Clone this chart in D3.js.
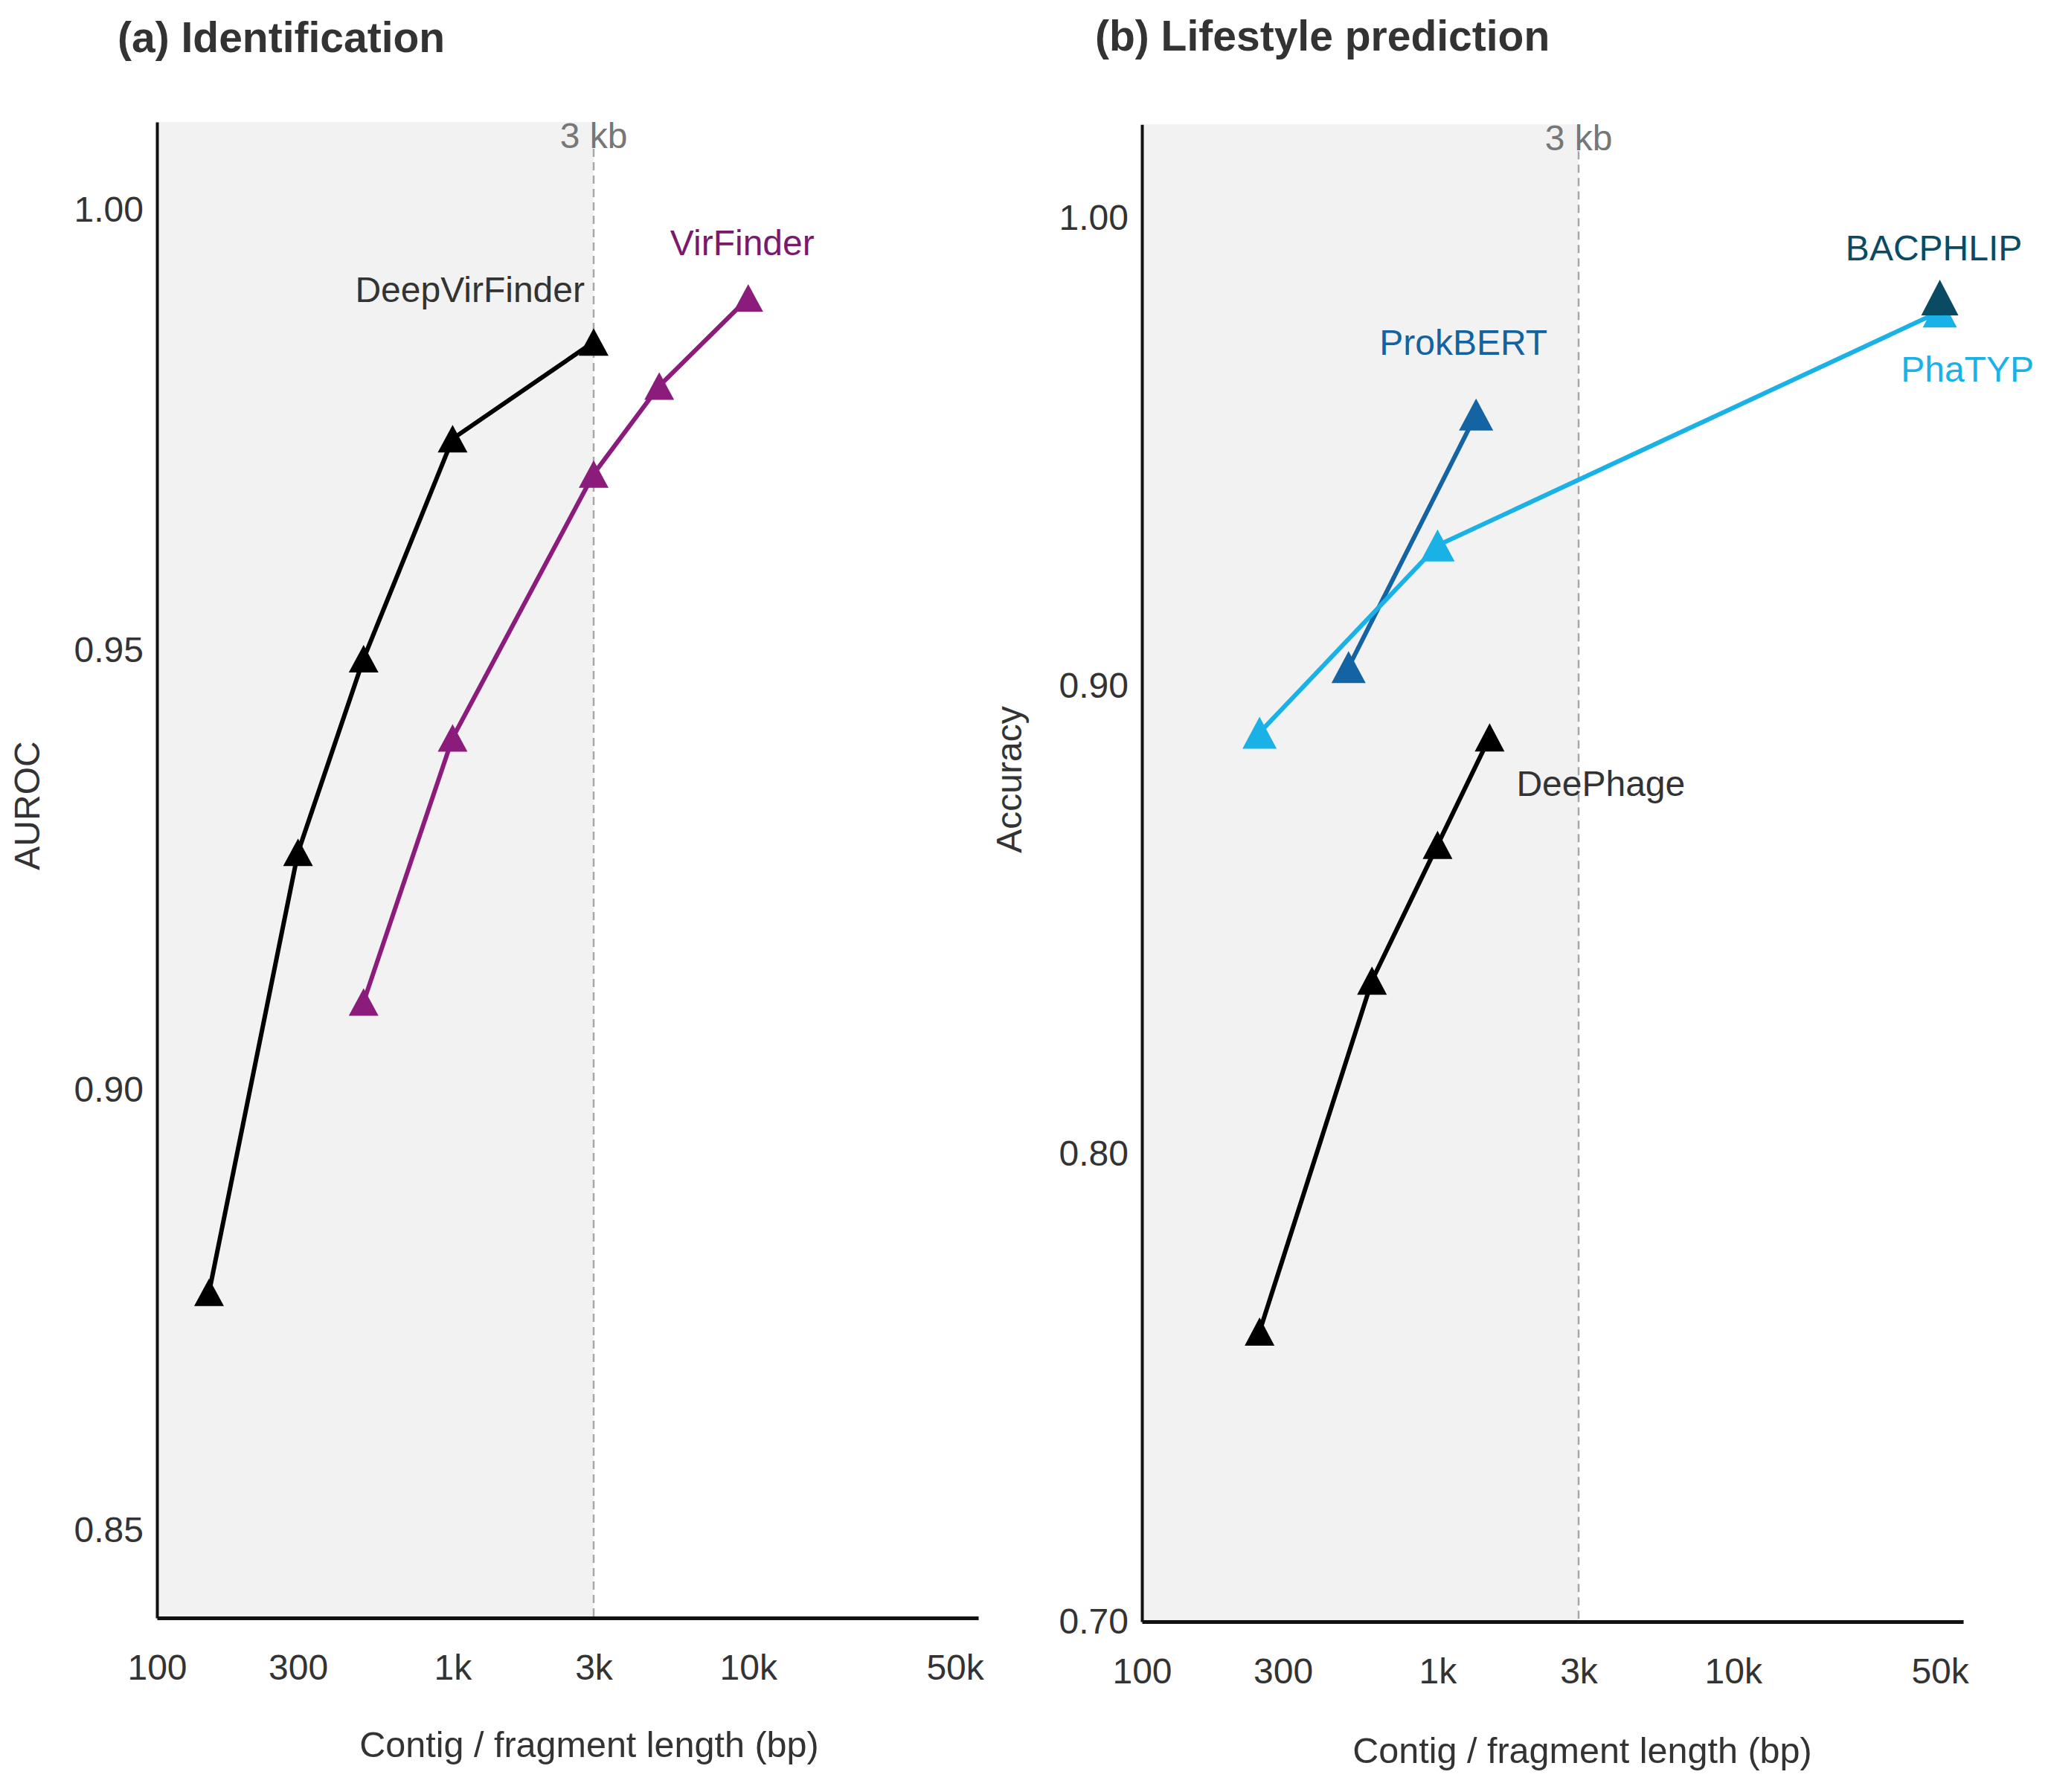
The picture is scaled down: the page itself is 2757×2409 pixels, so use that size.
<!DOCTYPE html>
<html>
<head>
<meta charset="utf-8">
<script src="https://cdn.jsdelivr.net/npm/d3@7"></script>
<style>
  body { margin: 0; background: #fff; }
  text { font-family: "Liberation Sans", Arial, sans-serif; }
</style>
</head>
<body>
<div id="chart"></div>
<script>
// values
const xTicks = [100, 300, 1000, 3000, 10000, 50000]
const xTickLabels = ['100', '300', '1k', '3k', '10k', '50k']
const yTicksA = [0.85, 0.90, 0.95, 1.00]
const yTicksB = [0.70, 0.80, 0.90, 1.00]
const threshold = 3000

const dvfLen = [150, 300, 500, 1000, 3000]
const dvfAuroc = [0.877, 0.927, 0.949, 0.974, 0.985]
const vfLen = [500, 1000, 3000, 5000, 10000]
const vfAuroc = [0.910, 0.940, 0.970, 0.980, 0.990]

const prokbertLen = [500, 1350]
const prokbertAcc = [0.904, 0.958]
const phatypLen = [250, 1000, 50000]
const phatypAcc = [0.890, 0.930, 0.980]
const bacphlipLen = [50000]
const bacphlipAcc = [0.983]
const deephageLen = [250, 600, 1000, 1500]
const deephageAcc = [0.762, 0.837, 0.866, 0.889]

const W = 2757, H = 2409
const svg = d3.select('#chart').append('svg')
    .attr('width', W).attr('height', H)

const tickFont = 48

function tri(w, h) {
    return `M0,${-h / 2}L${w / 2},${h / 2}L${-w / 2},${h / 2}Z`
}

function panel(cfg) {
    const x = d3.scaleLog().domain([100, 60000]).range(cfg.xRange)
    const y = d3.scaleLinear().domain(cfg.yDomain).range(cfg.yRange)
    const g = svg.append('g')

    // shaded short-fragment zone
    g.append('rect')
        .attr('x', x(100)).attr('y', cfg.yRange[1])
        .attr('width', x(threshold) - x(100))
        .attr('height', cfg.yRange[0] - cfg.yRange[1])
        .attr('fill', '#f2f2f2')

    g.append('line')
        .attr('x1', x(threshold)).attr('x2', x(threshold))
        .attr('y1', cfg.yRange[1]).attr('y2', cfg.yRange[0])
        .attr('stroke', '#a8a8a8').attr('stroke-width', 2.5)
        .attr('stroke-dasharray', '11,7')

    g.append('text')
        .attr('x', x(threshold)).attr('y', cfg.yRange[1] + 35)
        .attr('text-anchor', 'middle')
        .attr('font-size', 48).attr('fill', '#777')
        .text('3 kb')

    const xAxis = d3.axisBottom(x)
        .tickValues(xTicks)
        .tickFormat((d, i) => xTickLabels[i])
        .tickSize(0).tickPadding(49)
    const yAxis = d3.axisLeft(y)
        .tickValues(cfg.yTicks)
        .tickFormat(d3.format('.2f'))
        .tickSize(0).tickPadding(18)

    const xa = g.append('g')
        .attr('transform', `translate(0, ${cfg.yRange[0]})`)
        .call(xAxis)
    xa.select('.domain').attr('stroke', '#111').attr('stroke-width', 5)
    xa.selectAll('text').attr('font-size', tickFont).attr('fill', '#333')
        .attr('font-family', '"Liberation Sans", Arial, sans-serif')

    const ya = g.append('g')
        .attr('transform', `translate(${cfg.xRange[0]}, 0)`)
        .call(yAxis)
    ya.select('.domain').attr('stroke', '#111').attr('stroke-width', 4)
    ya.selectAll('text').attr('font-size', tickFont).attr('fill', '#333')
        .attr('font-family', '"Liberation Sans", Arial, sans-serif')

    const line = d3.line()
        .x(d => x(d[0]))
        .y(d => y(d[1]))

    cfg.series.forEach(s => {
        const pts = d3.zip(s.len, s.val)
        if (pts.length > 1) {
            g.append('path')
                .datum(pts)
                .attr('d', line)
                .attr('fill', 'none')
                .attr('stroke', s.color)
                .attr('stroke-width', 6)
        }
        g.selectAll(null).data(pts).enter().append('path')
            .attr('d', tri(s.mw, s.mh))
            .attr('transform', d => `translate(${x(d[0])}, ${y(d[1])})`)
            .attr('fill', s.color)
        const lb = s.label
        g.append('text')
            .attr('x', x(lb.at[0]) + lb.dx)
            .attr('y', y(lb.at[1]) + lb.dy)
            .attr('text-anchor', lb.anchor)
            .attr('font-size', 48)
            .attr('fill', lb.color)
            .text(lb.text)
    })

    svg.append('text')
        .attr('x', cfg.titleX).attr('y', cfg.titleY)
        .attr('font-size', 57).attr('font-weight', 'bold').attr('fill', '#333')
        .text(cfg.title)

    svg.append('text')
        .attr('x', cfg.xLabelX)
        .attr('y', cfg.xLabelY)
        .attr('text-anchor', 'middle')
        .attr('font-size', 48.5).attr('fill', '#333')
        .text('Contig / fragment length (bp)')

    svg.append('text')
        .attr('transform', `translate(${cfg.yLabelX}, ${cfg.yLabelY}) rotate(-90)`)
        .attr('text-anchor', 'middle')
        .attr('font-size', 48).attr('fill', '#333')
        .text(cfg.yLabel)
}

panel({
    title: '(a) Identification', titleX: 158, titleY: 70,
    xRange: [211, 211 + 397.4 * Math.log10(600)],
    yDomain: [0.84, 1.01], yRange: [2175, 164],
    yTicks: yTicksA,
    yLabel: 'AUROC', yLabelX: 53, yLabelY: 1083,
    xLabelX: 792, xLabelY: 2362,
    series: [
        { len: dvfLen, val: dvfAuroc, color: '#000', mw: 40, mh: 37,
          label: { text: 'DeepVirFinder', at: [3000, 0.985], dx: -12, dy: -54, anchor: 'end', color: '#333' } },
        { len: vfLen, val: vfAuroc, color: '#8b1c7c', mw: 40, mh: 37,
          label: { text: 'VirFinder', at: [10000, 0.990], dx: -8, dy: -58, anchor: 'middle', color: '#7a1a6c' } }
    ]
})

panel({
    title: '(b) Lifestyle prediction', titleX: 1472, titleY: 68,
    xRange: [1535, 1535 + 397.4 * Math.log10(600)],
    yDomain: [0.70, 1.02], yRange: [2180, 2180 - 0.32 * 6290],
    yTicks: yTicksB,
    yLabel: 'Accuracy', yLabelX: 1373, yLabelY: 1048,
    xLabelX: 2127, xLabelY: 2370,
    series: [
        { len: prokbertLen, val: prokbertAcc, color: '#1463a3', mw: 46, mh: 43,
          label: { text: 'ProkBERT', at: [1350, 0.958], dx: -17, dy: -80, anchor: 'middle', color: '#1363a0' } },
        { len: phatypLen, val: phatypAcc, color: '#1ab2e6', mw: 46, mh: 43,
          label: { text: 'PhaTYP', at: [50000, 0.980], dx: 37, dy: 94, anchor: 'middle', color: '#1ab2e6' } },
        { len: bacphlipLen, val: bacphlipAcc, color: '#0b4a63', mw: 50, mh: 48,
          label: { text: 'BACPHLIP', at: [50000, 0.983], dx: -8, dy: -50, anchor: 'middle', color: '#0b4a63' } },
        { len: deephageLen, val: deephageAcc, color: '#000', mw: 40, mh: 38,
          label: { text: 'DeePhage', at: [1500, 0.889], dx: 36, dy: 79, anchor: 'start', color: '#333' } }
    ]
})
</script>
</body>
</html>
